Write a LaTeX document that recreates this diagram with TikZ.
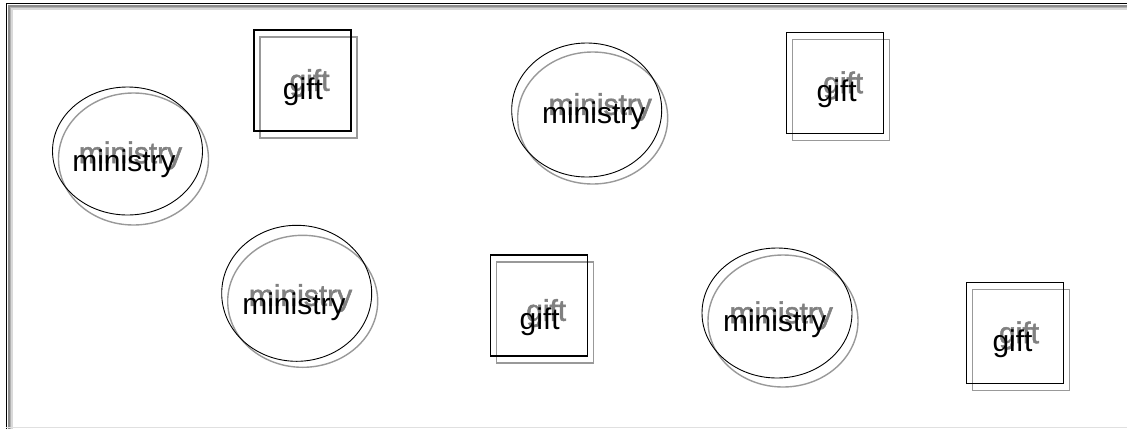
\documentclass[tikz,border=0pt]{standalone}
\usepackage{fontspec}
\setmainfont{Liberation Sans}
\newfontfamily\echofont[FakeBold=1.6]{Liberation Sans}
\usetikzlibrary{shapes.geometric, calc}

\begin{document}
\begin{tikzpicture}[
    x=1pt, y=-1pt,
    oval/.style={ellipse, draw, line width=0.9pt, minimum width=150pt, minimum height=132pt, inner sep=0pt},
    box/.style={rectangle, draw, line width=1.6pt, minimum width=97pt, minimum height=101pt, inner sep=0pt},
    ghost/.style={draw=black!40, line width=1.4pt},
    word/.style={font=\fontsize{30}{36}\selectfont, inner sep=0pt, anchor=base},
    echo/.style={word, font=\echofont\fontsize{30}{36}\selectfont, text=black!50}
]

% Page and sunken frame
\fill[white] (0,0) rectangle (1127,429);
\useasboundingbox (0,0) rectangle (1127,429);
\draw[black, line width=1.5pt] (6.5,429) -- (6.5,3.5) -- (1127,3.5);
\draw[black!45, line width=1.5pt] (9,429) -- (9,6) -- (1127,6);
\draw[black!30, line width=1.5pt] (10.5,429) -- (10.5,7.5) -- (1127,7.5);
\draw[black!15, line width=1.5pt] (12,429) -- (12,9) -- (1127,9);
\draw[black!12, line width=1.2pt] (6,427.8) -- (1127,427.8);

% Shadows of the shapes
\node[oval, ghost] (min1s) at (133.5,159) {};
\node[oval, ghost] (min2s) at (592.7,118) {};
\node[oval, ghost] (min3s) at (302.7,301.3) {};
\node[oval, ghost] (min4s) at (783,321) {};
\node[box, ghost] (gift1s) at (308.5,87.5) {};
\node[box, ghost] (gift2s) at (841,90) {};
\node[box, ghost] (gift3s) at (545,312.5) {};
\node[box, ghost] (gift4s) at (1021,340) {};

% Shapes
\node[oval, minimum height=128pt] (min1) at (127.5,151) {};
\node[oval, minimum height=134pt] (min2) at (586.7,110) {};
\node[oval, minimum height=136pt] (min3) at (296.7,293.3) {};
\node[oval, minimum height=130pt] (min4) at (777,313) {};
\node[box] (gift1) at (302.5,80.5) {};
\node[box] (gift2) at (835,83) {};
\node[box] (gift3) at (539,305.5) {};
\node[box] (gift4) at (1015,333) {};

% Shadow texts
\node[echo] (min1e) at (130.5,163.2) {ministry};
\node[echo] (min2e) at (600.2,114.8) {ministry};
\node[echo] (min3e) at (300.5,305.8) {ministry};
\node[echo] (min4e) at (781.2,323.2) {ministry};
\node[echo] (gift1e) at (309.5,90.8) {gift};
\node[echo] (gift2e) at (843.2,93.2) {gift};
\node[echo] (gift3e) at (546.2,320.8) {gift};
\node[echo] (gift4e) at (1019,343.2) {gift};

% Texts
\node[word] (min1w) at (124,171.7) {ministry};
\node[word] (min2w) at (593.7,123.3) {ministry};
\node[word] (min3w) at (294,314.3) {ministry};
\node[word] (min4w) at (774.7,331.7) {ministry};
\node[word] (gift1w) at (303,99.3) {gift};
\node[word] (gift2w) at (836.7,101.7) {gift};
\node[word] (gift3w) at (539.7,329.3) {gift};
\node[word] (gift4w) at (1012.5,351.7) {gift};

\end{tikzpicture}
\end{document}
